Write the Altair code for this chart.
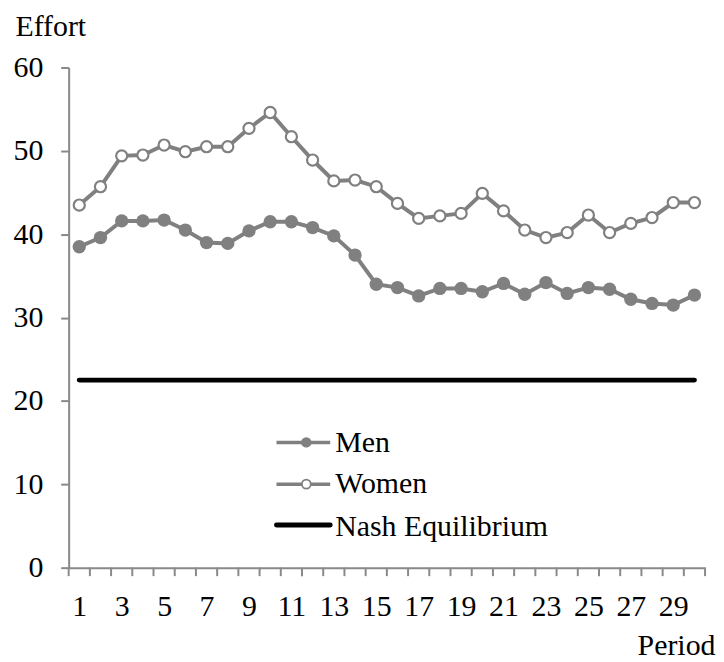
import altair as alt
import pandas as pd

periods = list(range(1, 31))
men = [38.5, 39.6, 41.6, 41.6, 41.7, 40.5, 39.0, 38.9, 40.4, 41.5,
       41.5, 40.8, 39.8, 37.5, 34.0, 33.6, 32.6, 33.5, 33.5, 33.1,
       34.1, 32.8, 34.2, 32.9, 33.6, 33.4, 32.2, 31.7, 31.5, 32.7]
women = [43.5, 45.7, 49.4, 49.5, 50.7, 49.9, 50.5, 50.5, 52.7, 54.6,
         51.7, 48.9, 46.4, 46.5, 45.7, 43.7, 41.9, 42.2, 42.5, 44.9,
         42.8, 40.5, 39.6, 40.2, 42.3, 40.2, 41.3, 42.0, 43.8, 43.8]
nash = [22.5, 22.5, 22.5, 22.5, 22.5, 22.5, 22.5, 22.5, 22.5, 22.5,
        22.5, 22.5, 22.5, 22.5, 22.5, 22.5, 22.5, 22.5, 22.5, 22.5,
        22.5, 22.5, 22.5, 22.5, 22.5, 22.5, 22.5, 22.5, 22.5, 22.5]
x_labels = [1, 3, 5, 7, 9, 11, 13, 15, 17, 19, 21, 23, 25, 27, 29]
y_ticks = [0, 10, 20, 30, 40, 50, 60]
x_tick_bounds = [p - 0.5 for p in periods] + [30.5]
legend_labels = ["Men", "Women", "Nash Equilibrium"]

W, H = 640, 503
FONT = "Liberation Serif"
FS = 30
GREY = "#808080"
AXIS_GREY = "#898989"

df_men = pd.DataFrame({"Period": periods, "Effort": men})
df_women = pd.DataFrame({"Period": periods, "Effort": women})
df_nash = pd.DataFrame({"Period": periods, "Effort": nash})
df_ticks = pd.DataFrame({"b": x_tick_bounds})

xscale = alt.Scale(domain=[0.5, 30.5], nice=False, zero=False)
yscale = alt.Scale(domain=[0, 60], nice=False)

xaxis = alt.Axis(values=x_labels, ticks=False, tickSize=0, labelPadding=24,
                 grid=False, domainColor=AXIS_GREY, domainWidth=2,
                 labelFont=FONT, labelFontSize=FS, labelColor="black",
                 labelFlush=False, labelOverlap=False,
                 title="Period", titleFont=FONT, titleFontSize=FS,
                 titleFontWeight="normal", titleColor="black",
                 titleAngle=0, titleX=650, titleY=87, titleAlign="right",
                 titleBaseline="alphabetic")
yaxis = alt.Axis(values=y_ticks, tickSize=8, tickColor=AXIS_GREY, tickWidth=2,
                 domainColor=AXIS_GREY, domainWidth=2, grid=False,
                 labelFont=FONT, labelFontSize=FS, labelColor="black",
                 labelPadding=18, labelFlush=False,
                 title="Effort", titleFont=FONT, titleFontSize=FS,
                 titleFontWeight="normal", titleColor="black",
                 titleAngle=0, titleX=-54, titleY=-32, titleAlign="left",
                 titleBaseline="alphabetic")

x_enc = alt.X("Period:Q", scale=xscale, axis=xaxis)
y_enc = alt.Y("Effort:Q", scale=yscale, axis=yaxis)

nash_line = alt.Chart(df_nash).mark_line(color="black", strokeWidth=5, strokeCap="round").encode(
    x=x_enc, y=y_enc)
men_line = alt.Chart(df_men).mark_line(color=GREY, strokeWidth=4).encode(
    x="Period:Q", y="Effort:Q")
men_pts = alt.Chart(df_men).mark_point(shape="circle", filled=True, color=GREY, size=180, opacity=1).encode(
    x="Period:Q", y="Effort:Q")
women_line = alt.Chart(df_women).mark_line(color=GREY, strokeWidth=4).encode(
    x="Period:Q", y="Effort:Q")
women_pts = alt.Chart(df_women).mark_point(shape="circle", filled=True, fill="white", stroke=GREY,
                                           strokeWidth=2.2, size=125, opacity=1).encode(
    x="Period:Q", y="Effort:Q")

tick_marks = alt.Chart(df_ticks).mark_rule(color=AXIS_GREY, strokeWidth=2).encode(
    x=alt.X("b:Q", scale=xscale), y=alt.value(H), y2=alt.value(H + 8.5))

# manual legend
LX1, LX2, LMID, TX = 209, 263, 239, 268
rows_line_y = [377, 419, 460]
rows_text_y = [387, 428, 471]
legend_layers = []
for i, lab in enumerate(legend_labels):
    color = "black" if i == 2 else GREY
    sw = 5 if i == 2 else 3.5
    legend_layers.append(alt.Chart(df_nash.head(1)).mark_rule(color=color, strokeWidth=sw, strokeCap="butt" if i < 2 else "round").encode(
        x=alt.value(LX1), x2=alt.value(LX2), y=alt.value(rows_line_y[i])))
    if i == 0:
        legend_layers.append(alt.Chart(df_nash.head(1)).mark_point(shape="circle", filled=True, color=GREY, size=110, opacity=1).encode(
            x=alt.value(LMID), y=alt.value(rows_line_y[i])))
    elif i == 1:
        legend_layers.append(alt.Chart(df_nash.head(1)).mark_point(shape="circle", filled=True, fill="white", stroke=GREY,
                                                                  strokeWidth=1.8, size=80, opacity=1).encode(
            x=alt.value(LMID), y=alt.value(rows_line_y[i])))
    legend_layers.append(alt.Chart(df_nash.head(1)).mark_text(text=lab, font=FONT, fontSize=FS, color="black",
                                                             align="left", baseline="alphabetic").encode(
        x=alt.value(TX), y=alt.value(rows_text_y[i])))

chart = alt.layer(nash_line, men_line, men_pts, women_line, women_pts, tick_marks, *legend_layers).properties(
    width=W, height=H,
    autosize=alt.AutoSizeParams(type="none"),
    padding={"left": 61, "top": 58, "right": 11, "bottom": 91},
    background="white",
).configure_view(stroke=None)

chart.save("out.html", embed_options={"renderer": "svg", "actions": False})
